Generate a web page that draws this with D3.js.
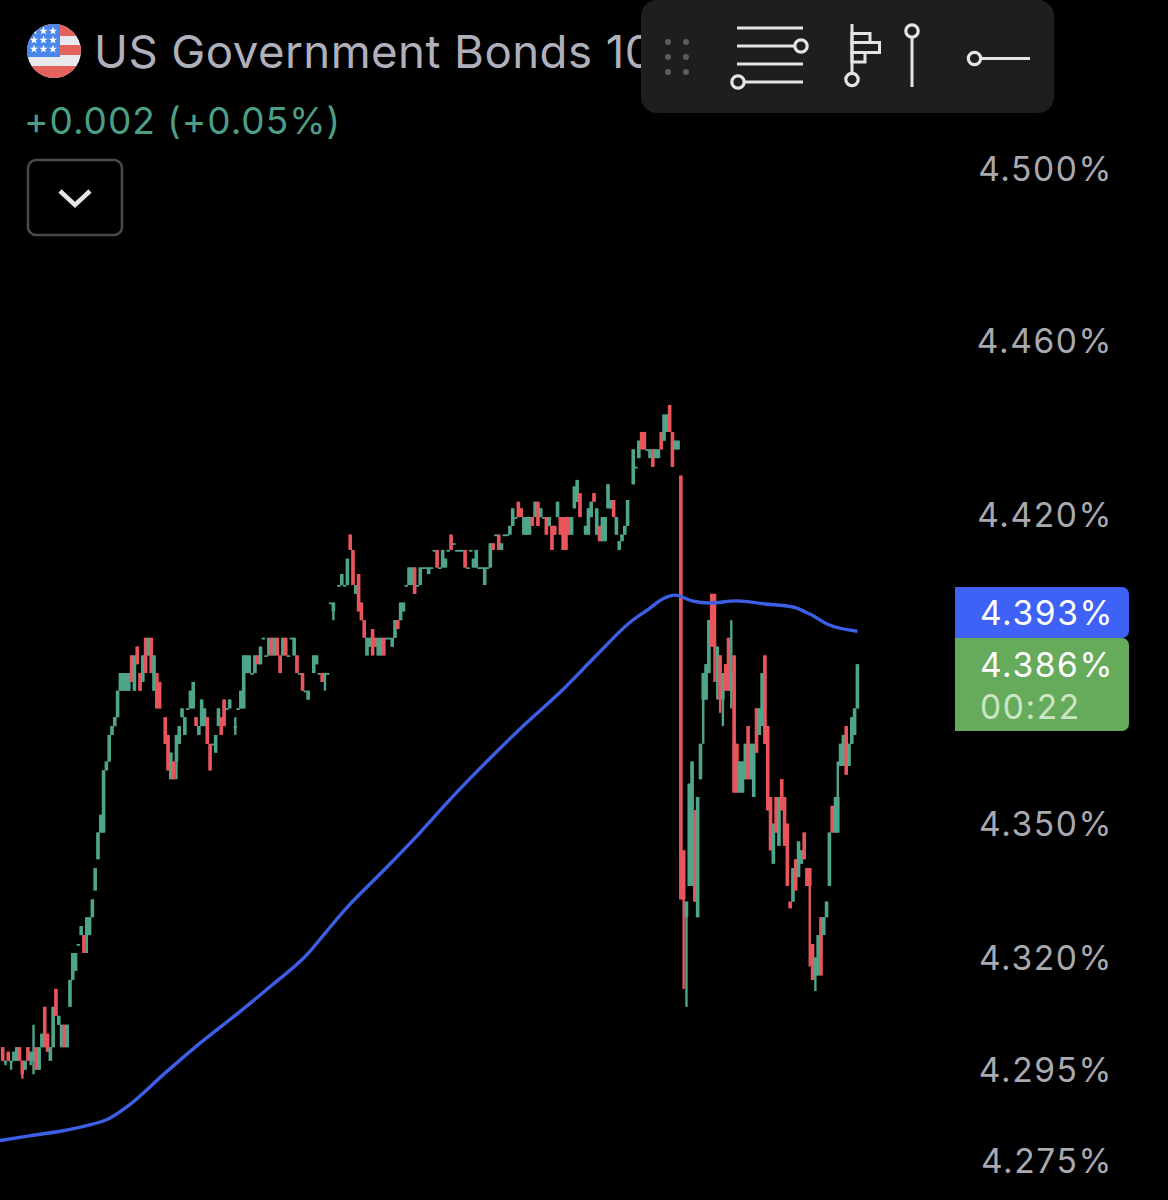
<!DOCTYPE html>
<html>
<head>
<meta charset="utf-8">
<script src="https://cdnjs.cloudflare.com/ajax/libs/d3/7.8.5/d3.min.js"></script>
<style>
  html, body { margin: 0; background: #000; }
  text { font-family: Inter, Roboto, sans-serif; }
</style>
</head>
<body>
<div id="chart-area"><svg></svg></div>
<script>
const chartSize = { width: 1168, height: 1200 };
const axisTicks = [4.5, 4.46, 4.42, 4.35, 4.32, 4.295, 4.275];
const title = 'US Government Bonds 10';
const change = '+0.002 (+0.05%)';
const maTag = '4.393%';
const priceTag = '4.386%';
const countdown = '00:22';

// candles are [open, high, low, close], one slot per bar, null = no trade
const rally = [
  [4.300,4.300,4.297,4.297],[4.297,4.297,4.296,4.297],[4.299,4.299,4.297,4.297],[4.297,4.297,4.295,4.297],
  [4.297,4.299,4.297,4.299],[4.297,4.300,4.297,4.300],[4.300,4.300,4.297,4.297],[4.297,4.297,4.293,4.294],
  [4.295,4.297,4.295,4.297],[4.300,4.300,4.297,4.297],[4.297,4.299,4.296,4.299],[4.297,4.305,4.294,4.299],
  [4.300,4.300,4.295,4.295],[4.295,4.300,4.295,4.300],[4.300,4.303,4.300,4.303],[4.309,4.309,4.300,4.300],
  [4.303,4.303,4.299,4.299],[4.297,4.300,4.297,4.300],[4.300,4.309,4.300,4.309],[4.313,4.313,4.307,4.307],
  [4.305,4.307,4.305,4.307],[4.300,4.305,4.300,4.305],[4.305,4.305,4.300,4.300],[4.300,4.305,4.300,4.305],
  [4.309,4.315,4.309,4.315],[4.315,4.321,4.315,4.321],[4.317,4.321,4.317,4.321],[4.323,4.323,4.323,4.323],
  [4.325,4.327,4.325,4.327],[4.325,4.325,4.321,4.321],[4.325,4.329,4.321,4.329],[4.325,4.329,4.325,4.329],
  [4.329,4.333,4.329,4.333],[4.335,4.340,4.335,4.340],[4.342,4.348,4.342,4.348],[4.348,4.352,4.348,4.352],
  [4.348,4.362,4.348,4.362],[4.362,4.364,4.362,4.364],[4.364,4.370,4.364,4.370],[4.370,4.372,4.370,4.372],
  [4.372,4.374,4.372,4.374],[4.374,4.380,4.374,4.380],[4.380,4.384,4.380,4.384],[4.380,4.384,4.380,4.384],
  [4.380,4.384,4.380,4.384],[4.380,4.384,4.380,4.384]
];
const firstTop = [
  [4.388,4.388,4.382,4.382],[4.380,4.388,4.380,4.388],[4.390,4.390,4.386,4.386],[4.384,4.384,4.380,4.380],
  [4.382,4.388,4.382,4.388],[4.392,4.392,4.384,4.384],[4.388,4.392,4.388,4.392],[4.392,4.392,4.384,4.384],
  [4.380,4.388,4.380,4.388],[4.384,4.384,4.376,4.376],[4.382,4.382,4.376,4.376],null,
  [4.374,4.374,4.368,4.368],[4.370,4.370,4.362,4.362],[4.360,4.366,4.360,4.366],[4.364,4.364,4.360,4.360],
  [4.364,4.370,4.360,4.370],[4.368,4.372,4.368,4.372],[4.374,4.376,4.374,4.376],[4.370,4.374,4.370,4.374],
  [4.376,4.376,4.376,4.376],[4.376,4.380,4.376,4.380],[4.376,4.382,4.376,4.382],[4.374,4.374,4.372,4.372],
  [4.370,4.372,4.370,4.372],[4.372,4.378,4.372,4.378],[4.372,4.376,4.372,4.376],[4.374,4.374,4.368,4.368],
  [4.368,4.368,4.362,4.362],[4.368,4.368,4.368,4.368],[4.366,4.370,4.366,4.370],[4.372,4.376,4.372,4.376],
  [4.374,4.374,4.370,4.370],[4.378,4.378,4.372,4.372],[4.376,4.376,4.376,4.376],[4.376,4.378,4.376,4.378],
  null,[4.372,4.374,4.370,4.372],[4.376,4.376,4.376,4.376],[4.376,4.380,4.376,4.380]
];
const secondTop = [
  [4.376,4.388,4.376,4.388],[4.384,4.388,4.384,4.388],[4.384,4.388,4.384,4.388],[4.384,4.384,4.384,4.384],
  [4.384,4.388,4.384,4.388],[4.388,4.388,4.386,4.386],[4.386,4.390,4.386,4.390],[4.392,4.392,4.392,4.392],
  [4.388,4.388,4.388,4.388],[4.388,4.392,4.388,4.392],[4.392,4.392,4.388,4.388],[4.388,4.392,4.388,4.392],
  [4.392,4.392,4.388,4.388],[4.388,4.388,4.384,4.384],[4.388,4.392,4.388,4.392],[4.392,4.392,4.388,4.388],
  [4.388,4.388,4.388,4.388],[4.392,4.392,4.392,4.392],[4.388,4.392,4.388,4.392],[4.388,4.388,4.384,4.384],
  [4.384,4.384,4.384,4.384],[4.384,4.384,4.380,4.380],[4.380,4.380,4.380,4.380],[4.378,4.380,4.378,4.380],
  null,[4.384,4.388,4.384,4.388],[4.386,4.388,4.386,4.388],[4.384,4.384,4.384,4.384],
  [4.384,4.384,4.382,4.382],[4.384,4.384,4.380,4.384],[4.384,4.384,4.384,4.384]
];
const gapDip = [
  [4.400,4.400,4.400,4.400],[4.398,4.400,4.396,4.400],null,[4.404,4.404,4.404,4.404],
  [4.404,4.4065,4.404,4.4065],[4.404,4.404,4.404,4.404],[4.404,4.410,4.404,4.410],[4.4155,4.4155,4.412,4.412],
  [4.412,4.412,4.404,4.404],[4.402,4.404,4.402,4.404],[4.4065,4.4065,4.398,4.398],[4.400,4.400,4.396,4.396],
  [4.396,4.396,4.392,4.392],[4.388,4.392,4.388,4.392],[4.390,4.392,4.390,4.392],[4.394,4.394,4.388,4.388],
  [4.392,4.392,4.390,4.390],[4.388,4.392,4.388,4.392],[4.388,4.392,4.388,4.392],[4.392,4.392,4.388,4.388],
  [4.392,4.392,4.392,4.392],[4.392,4.392,4.392,4.392],[4.390,4.392,4.390,4.392],[4.392,4.396,4.392,4.396],
  [4.396,4.396,4.394,4.394],[4.396,4.400,4.396,4.400],[4.398,4.400,4.398,4.400],[4.404,4.404,4.404,4.404]
];
const climb = [
  [4.404,4.408,4.404,4.408],[4.404,4.408,4.404,4.408],[4.408,4.408,4.402,4.402],[4.404,4.404,4.404,4.404],
  [4.404,4.408,4.404,4.408],[4.408,4.408,4.408,4.408],[4.408,4.408,4.408,4.408],[4.4065,4.408,4.4065,4.408],
  [4.408,4.408,4.408,4.408],[4.412,4.412,4.412,4.412],[4.412,4.412,4.408,4.408],[4.408,4.408,4.408,4.408],
  [4.408,4.412,4.408,4.412],[4.408,4.410,4.408,4.410],[4.412,4.412,4.412,4.412],[4.4155,4.4155,4.412,4.412],
  [4.4135,4.4135,4.4135,4.4135],[4.412,4.412,4.412,4.412],[4.412,4.412,4.412,4.412],[4.412,4.412,4.412,4.412],
  [4.412,4.412,4.408,4.408],[4.408,4.408,4.408,4.408],[4.412,4.412,4.412,4.412],[4.408,4.410,4.408,4.410],
  [4.408,4.412,4.408,4.412],[4.408,4.408,4.408,4.408],[4.408,4.408,4.408,4.408],[4.404,4.408,4.404,4.408],
  [4.408,4.408,4.408,4.408],[4.408,4.4135,4.408,4.4135],[4.4135,4.4135,4.412,4.412],[4.4155,4.4155,4.4155,4.4155],
  [4.4155,4.4155,4.412,4.412],[4.412,4.4135,4.412,4.4135],[4.4155,4.4155,4.4155,4.4155],[4.4155,4.4155,4.4155,4.4155]
];
const choppyHigh = [
  [4.4155,4.4175,4.4155,4.4175],[4.4175,4.4215,4.4175,4.4215],[4.4195,4.4195,4.4195,4.4195],[4.423,4.423,4.4195,4.4195],
  [4.4215,4.4215,4.4195,4.4195],[4.4155,4.4195,4.4155,4.4195],[4.4155,4.4195,4.4155,4.4195],[4.4155,4.4195,4.4155,4.4195],
  [4.4195,4.4195,4.4175,4.4175],[4.4195,4.423,4.4195,4.423],[4.423,4.423,4.4175,4.4175],[4.4195,4.4215,4.4195,4.4215],
  [4.4195,4.4195,4.4195,4.4195],[4.4195,4.4195,4.4155,4.4155],[4.4175,4.4195,4.4175,4.4195],[4.4175,4.4175,4.412,4.412],
  [4.4175,4.4175,4.4155,4.4155],[4.4195,4.423,4.4195,4.423],[4.4195,4.4195,4.4155,4.4155],[4.4195,4.4195,4.412,4.412],
  [4.4195,4.4195,4.412,4.412],[4.4195,4.4195,4.4155,4.4155],[4.4155,4.4195,4.4155,4.4195],[4.4215,4.4265,4.4215,4.4265],
  [4.423,4.428,4.423,4.428],[4.425,4.425,4.4195,4.4195],null,[4.4155,4.4175,4.4155,4.4175],
  [4.4155,4.4215,4.4155,4.4215],[4.4195,4.423,4.4195,4.423],[4.425,4.425,4.423,4.423],[4.4155,4.4215,4.4155,4.4215],
  [4.4175,4.4175,4.414,4.414],[4.414,4.4195,4.414,4.4195],[4.414,4.4195,4.414,4.4195],[4.4215,4.427,4.4215,4.427],
  [4.4215,4.4234,4.4215,4.4234],[4.4234,4.4234,4.4195,4.4195],[4.4155,4.4195,4.4155,4.4195],[4.412,4.414,4.412,4.414],
  [4.414,4.4155,4.414,4.4155],[4.4155,4.4175,4.4155,4.4175],[4.4175,4.4234,4.4175,4.4234],null
];
const finalPeak = [
  [4.427,4.435,4.427,4.435],[4.431,4.431,4.431,4.431],[4.433,4.437,4.433,4.437],[4.439,4.439,4.435,4.435],
  [4.439,4.439,4.435,4.435],[4.435,4.435,4.435,4.435],[4.433,4.435,4.433,4.435],[4.435,4.435,4.431,4.431],
  [4.433,4.435,4.433,4.435],[4.433,4.435,4.433,4.435],[4.439,4.439,4.435,4.435],[4.437,4.443,4.437,4.443],
  [4.439,4.443,4.439,4.443],[4.4452,4.4452,4.439,4.439],[4.439,4.439,4.431,4.431],[4.435,4.437,4.435,4.437],
  [4.435,4.437,4.435,4.437]
];
const spikeDown = [
  [4.429,4.429,4.333,4.333],[4.344,4.344,4.313,4.333],[4.329,4.3325,4.309,4.3325],[4.336,4.359,4.336,4.359],
  [4.336,4.364,4.336,4.364],[4.353,4.353,4.3325,4.3325],[4.329,4.356,4.329,4.356],[4.360,4.368,4.360,4.368],
  [4.378,4.384,4.368,4.384],[4.378,4.386,4.378,4.386],[4.384,4.396,4.384,4.396],[4.402,4.402,4.390,4.390],
  [4.402,4.402,4.382,4.390],[4.382,4.390,4.378,4.390],[4.388,4.388,4.375,4.378],[4.378,4.384,4.372,4.384],
  [4.386,4.386,4.380,4.380],[4.392,4.392,4.380,4.380],[4.380,4.396,4.376,4.384]
];
const secondLeg = [
  [4.388,4.388,4.357,4.357],[4.368,4.368,4.357,4.357],[4.357,4.364,4.357,4.364],[4.357,4.364,4.357,4.364],
  [4.360,4.368,4.360,4.368],[4.372,4.372,4.360,4.360],[4.360,4.368,4.360,4.368],[4.356,4.368,4.356,4.368],
  [4.376,4.376,4.366,4.366],[4.370,4.376,4.370,4.376],[4.372,4.384,4.372,4.384],[4.388,4.388,4.368,4.368],
  [4.372,4.372,4.353,4.353],[4.356,4.356,4.344,4.344],[4.341,4.350,4.341,4.350],[4.356,4.356,4.348,4.348],
  [4.345,4.356,4.345,4.356],[4.360,4.360,4.353,4.353],[4.356,4.356,4.345,4.345],[4.350,4.350,4.336,4.336],
  [4.3325,4.3325,4.331,4.331],[4.3325,4.340,4.3325,4.340],[4.342,4.342,4.335,4.335],[4.338,4.346,4.338,4.346],
  [4.341,4.344,4.341,4.344],[4.348,4.348,4.342,4.342],[4.340,4.340,4.336,4.336],[4.340,4.340,4.318,4.336],
  [4.323,4.323,4.315,4.315]
];
const recovery = [
  [4.316,4.320,4.3125,4.320],[4.316,4.325,4.316,4.325],[4.329,4.329,4.316,4.316],[4.325,4.329,4.325,4.329],
  [4.329,4.3325,4.329,4.3325],[4.336,4.348,4.336,4.348],[4.354,4.354,4.348,4.348],[4.348,4.356,4.348,4.354],
  [4.348,4.364,4.348,4.356],[4.363,4.368,4.363,4.368],[4.363,4.370,4.363,4.370],[4.372,4.372,4.361,4.361],
  [4.363,4.368,4.363,4.368],[4.368,4.374,4.368,4.374],[4.370,4.376,4.370,4.376],[4.376,4.386,4.376,4.386]
];

// moving average, read at a handful of bar slots
const maSlots = [-1,10,20,30,38,45,58,70,84,96,109,115,122,135,147,160,174,186,199,212,224,230,236,240,246,252,262,272,282,288,295,305];
const maValues = [4.2793,4.2804,4.2813,4.2826,4.2842,4.2871,4.2943,4.3007,4.3076,4.3138,4.3209,4.3254,4.3306,4.3389,4.3467,4.3557,4.3648,4.3722,4.3797,4.3881,4.3956,4.3983,4.4010,4.4017,4.4004,4.3999,4.4004,4.3997,4.3990,4.3974,4.3949,4.3935];

const starRows = [[0,3],[1,3],[2,3]];
const dragDots = [[668,42],[686,42],[668,57],[686,57],[668,72],[686,72]];

const colors = { up: '#4fa58c', down: '#e8565c', ma: '#3d5fe6', axis: '#a9a9b0', title: '#b0b0bc', icon: '#e4e4e4' };

const drawAxis = (svg, y) => {
  const axis = d3.axisRight(y)
    .tickValues(axisTicks)
    .tickSize(0)
    .tickFormat(d => `${d.toFixed(3)}%`);
  const g = svg.append('g')
    .attr('class', 'y axis')
    .attr('transform', 'translate(1113,0)')
    .call(axis);
  g.select('.domain').remove();
  g.selectAll('text')
    .attr('x', 0)
    .attr('dy', '0.36em')
    .attr('text-anchor', 'end')
    .attr('font-family', 'Inter, Roboto, sans-serif')
    .attr('font-size', 33.5)
    .attr('letter-spacing', 1.6)
    .attr('fill', colors.axis);
};

const drawCandles = (svg, x, y, candles) => {
  const groups = svg.append('g').selectAll('g')
    .data(candles.map((c, slot) => ({ c, slot })).filter(d => d.c))
    .enter().append('g')
    .attr('fill', d => d.c[3] >= d.c[0] ? colors.up : colors.down);
  groups.append('rect')
    .attr('x', d => x(d.slot) - 1.2)
    .attr('width', 2.4)
    .attr('y', d => y(d.c[1]))
    .attr('height', d => Math.max(1.5, y(d.c[2]) - y(d.c[1])));
  groups.append('rect')
    .attr('x', d => x(d.slot) - 1.8)
    .attr('width', 3.6)
    .attr('y', d => y(Math.max(d.c[0], d.c[3])))
    .attr('height', d => Math.max(1.5, Math.abs(y(d.c[0]) - y(d.c[3]))));
};

const drawAverage = (svg, x, y) => {
  const line = d3.line()
    .x(d => x(d))
    .y((d, i) => y(maValues[i]))
    .curve(d3.curveMonotoneX);
  svg.append('path')
    .attr('d', line(maSlots))
    .attr('fill', 'none')
    .attr('stroke', colors.ma)
    .attr('stroke-width', 3.4);
};

const drawFlag = (svg) => {
  const flag = svg.append('g');
  svg.append('clipPath').attr('id', 'flag-clip')
    .append('circle').attr('cx', 54).attr('cy', 51).attr('r', 27);
  const g = flag.attr('clip-path', 'url(#flag-clip)');
  g.append('rect').attr('x', 27).attr('y', 24).attr('width', 54).attr('height', 54).attr('fill', '#e9eaee');
  [[24, 36], [45, 55], [66, 78]].forEach(([a, b]) => {
    g.append('rect').attr('x', 27).attr('y', a).attr('width', 54).attr('height', b - a).attr('fill', '#e3625c');
  });
  g.append('rect').attr('x', 27).attr('y', 24).attr('width', 33).attr('height', 33).attr('fill', '#4b86ec');
  starRows.forEach(([row, count]) => {
    d3.range(count).forEach(col => {
      g.append('path')
        .attr('d', d3.symbol(d3.symbolStar, 22)())
        .attr('transform', `translate(${34 + col * 9.5},${31 + row * 9})`)
        .attr('fill', '#fff');
    });
  });
};

const drawHeader = (svg) => {
  svg.append('text').attr('x', 94).attr('y', 68)
    .attr('font-size', 45.6).attr('letter-spacing', 0.45).attr('fill', colors.title).text(title);
  svg.append('text').attr('x', 24).attr('y', 134)
    .attr('font-size', 37).attr('letter-spacing', 1).attr('fill', '#4d9e86').text(change);
  svg.append('rect').attr('x', 28).attr('y', 160).attr('width', 94).attr('height', 75).attr('rx', 8)
    .attr('fill', '#000').attr('stroke', '#4a4a4a').attr('stroke-width', 2.5);
  svg.append('path').attr('d', d3.line()([[60, 191], [75, 205], [90, 191]]))
    .attr('fill', 'none').attr('stroke', '#e4e4e4').attr('stroke-width', 4.5);
};

const drawToolbar = (svg) => {
  svg.append('rect').attr('x', 641).attr('y', 0).attr('width', 413).attr('height', 113).attr('rx', 16).attr('fill', '#1e1e1e');
  svg.append('g').selectAll('circle').data(dragDots).enter().append('circle')
    .attr('cx', d => d[0]).attr('cy', d => d[1]).attr('r', 3).attr('fill', '#5c5c5c');
  const icons = svg.append('g').attr('fill', 'none').attr('stroke', colors.icon).attr('stroke-width', 3);
  const segment = (a, b) => icons.append('path').attr('d', d3.line()([a, b]));
  const knob = (cx, cy) => icons.append('circle').attr('cx', cx).attr('cy', cy).attr('r', 6.2).attr('fill', '#1e1e1e').attr('stroke-width', 3.2);
  segment([737, 28], [803, 28]);
  segment([737, 46], [797, 46]);
  segment([737, 64], [803, 64]);
  segment([743, 82], [803, 82]);
  knob(801, 46);
  knob(738, 82);
  segment([852, 24], [852, 74]);
  knob(852, 79.5);
  icons.append('rect').attr('x', 852).attr('y', 33.5).attr('width', 18).attr('height', 9);
  icons.append('rect').attr('x', 852).attr('y', 42.5).attr('width', 27.5).attr('height', 10);
  icons.append('rect').attr('x', 852).attr('y', 52.5).attr('width', 13).attr('height', 9.5);
  segment([912, 37], [912, 87]);
  knob(912, 31);
  segment([980, 58.5], [1030, 58.5]);
  knob(974.5, 58.5);
};

const drawTags = (svg) => {
  const tag = (top, h, fill) => svg.append('path')
    .attr('d', `M955,${top}H1122a7,7 0 0 1 7,7V${top + h - 7}a7,7 0 0 1 -7,7H955Z`)
    .attr('fill', fill);
  tag(638, 93, '#66ab5c');
  tag(587, 51, '#3d62f5');
  const label = (yPos, text, fill) => svg.append('text')
    .attr('x', 980).attr('y', yPos).attr('dy', '0.36em')
    .attr('font-size', 33.5).attr('letter-spacing', 1.6).attr('fill', fill).text(text);
  label(613, maTag, '#fff');
  label(665, priceTag, '#fff');
  label(707, countdown, '#cbe6c4');
};

const main = () => {
  const svg = d3.select('#chart-area svg')
    .attr('width', chartSize.width)
    .attr('height', chartSize.height)
    .style('display', 'block')
    .style('background', '#000');

  const candles = [...rally, ...firstTop, ...secondTop, ...gapDip, ...climb, ...choppyHigh, ...finalPeak, ...spikeDown, ...secondLeg, ...recovery];
  const x = d3.scaleLinear().domain([0, candles.length - 1]).range([2.7, 857.4]);
  const y = d3.scaleLog().domain([4.275, 4.5]).range([1160, 168]);

  drawAxis(svg, y);
  drawCandles(svg, x, y, candles);
  drawAverage(svg, x, y);
  drawHeader(svg);
  drawFlag(svg);
  drawToolbar(svg);
  drawTags(svg);
};

window.onload = main;
</script>
</body>
</html>
